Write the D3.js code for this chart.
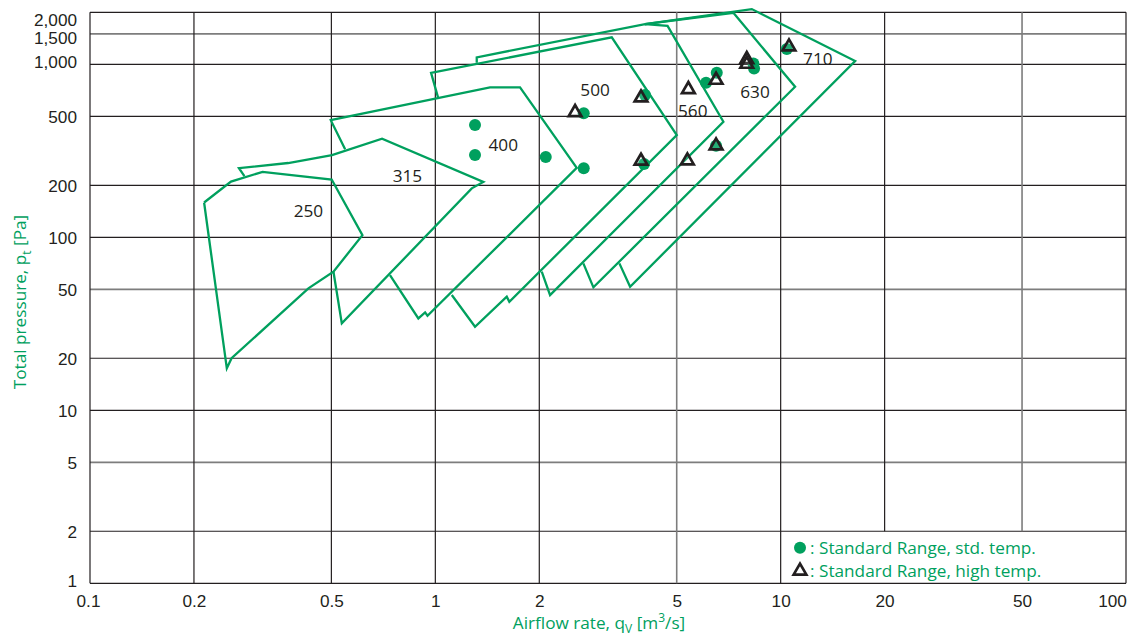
<!DOCTYPE html>
<html>
<head>
<meta charset="utf-8">
<script src="https://cdn.jsdelivr.net/npm/d3@7"></script>
<style>
  body { margin: 0; background: #fff; }
  svg { display: block; font-family: "Open Sans", sans-serif; }
</style>
</head>
<body>
<svg id="chart" width="1135" height="639"></svg>
<script>
"use strict"

// fan sizes and their operating range outlines, [airflow m3/s, pressure Pa]
const fanSizes = ["250", "315", "400", "500", "560", "630", "710"]
const curve250 = [[0.214, 159], [0.256, 210], [0.316, 239], [0.501, 216], [0.615, 103], [0.507, 63.3], [0.429, 50.7], [0.257, 20.0], [0.249, 17.5], [0.214, 159]]
const curve315 = [[0.280, 226], [0.270, 251], [0.375, 269], [0.502, 299], [0.701, 372], [1.377, 209], [1.275, 192], [0.536, 31.8], [0.507, 63.3]]
const curve400 = [[0.548, 323], [0.498, 476], [1.440, 736], [1.759, 736], [2.567, 252], [0.949, 35.2], [0.934, 36.8], [0.893, 34.0], [0.739, 60.5]]
const curve500 = [[1.020, 636], [0.972, 894], [3.243, 1432], [5.002, 390], [1.638, 42.4], [1.610, 45.4], [1.303, 30.4], [1.116, 46.4]]
const curve560 = [[1.318, 1021], [1.318, 1098], [4.048, 1710], [4.704, 1669], [6.826, 466], [2.149, 46.4], [2.033, 63.3]]
const curve630 = [[4.048, 1710], [7.295, 1988], [11.01, 742], [2.869, 51.4], [2.683, 70.7]]
const curve710 = [[4.048, 1710], [8.249, 2088], [16.43, 1045], [3.664, 51.8], [3.412, 70.7]]
const curves = [curve250, curve315, curve400, curve500, curve560, curve630, curve710]

// label anchor for each size
const labelX = [0.429, 0.830, 1.573, 2.901, 5.565, 8.43, 12.81]
const labelY = [141.9, 227, 344.8, 710, 537, 694, 1073]

// duty points
const stdTempX = [1.303, 1.303, 2.088, 2.690, 2.690, 4.048, 4.021, 6.081, 6.53, 6.50, 8.337, 8.375, 10.42]
const stdTempY = [445.9, 299.1, 291.2, 521.2, 250.6, 664.5, 265.3, 782.8, 894, 338.3, 1013, 948, 1226]
const highTempX = [2.539, 3.941, 3.941, 5.404, 5.368, 6.50, 6.50, 7.977, 7.977, 10.57]
const highTempY = [527.9, 641, 276.1, 717, 277.3, 811.5, 338.3, 1069, 1004, 1264]

const xTicks = [0.1, 0.2, 0.5, 1, 2, 5, 10, 20, 50, 100]
const yTicks = [1, 2, 5, 10, 20, 50, 100, 200, 500, 1000, 1500, 2000]
const legendLabels = [": Standard Range, std. temp.", ": Standard Range, high temp."]

const green = "#00a05e"
const dark = "#231f20"
const fontSize = "17.2px"
const subSize = "12px"

const margin = {left: 90, right: 9, top: 12.3, bottom: 55.7}
const width = 1135, height = 639

const svg = d3.select("#chart")

const x = d3.scaleLog().domain([0.1, 100]).range([margin.left, width - margin.right])
const y = d3.scaleLog().domain([1, 2000]).range([height - margin.bottom, margin.top])

// grid
const grid = svg.append("g").attr("class", "grid")
const lightLines = [1500, 5, 50]

grid.selectAll(".hline")
    .data(yTicks)
    .enter()
    .append("line")
    .attr("class", "hline")
    .attr("x1", x(0.1))
    .attr("x2", x(100))
    .attr("y1", d => y(d))
    .attr("y2", d => y(d))
    .style("stroke", d => lightLines.includes(d) ? "#7d7d7d" : dark)
    .style("stroke-width", d => lightLines.includes(d) ? 1.6 : 1.2)

// 20 and 50 stop above the legend cell
grid.selectAll(".vline")
    .data(xTicks)
    .enter()
    .append("line")
    .attr("class", "vline")
    .attr("x1", d => x(d))
    .attr("x2", d => x(d))
    .attr("y1", y(2000))
    .attr("y2", d => (d === 20 || d === 50) ? y(2) : y(1))
    .style("stroke", d => lightLines.includes(d) ? "#7d7d7d" : dark)
    .style("stroke-width", d => lightLines.includes(d) ? 1.6 : 1.2)

// axes
const fmt = d3.format(",")
const xAxis = d3.axisBottom(x).tickValues(xTicks).tickSize(0).tickPadding(11).tickFormat(d => String(d))
const yAxis = d3.axisLeft(y).tickValues(yTicks).tickSize(0).tickPadding(13).tickFormat(d => fmt(d))

const gx = svg.append("g")
    .attr("transform", "translate(0," + y(1) + ")")
    .call(xAxis)
gx.select(".domain").remove()
gx.selectAll("text")
    .style("font-size", fontSize)
    .style("fill", dark)
    .attr("dx", d => d === 100 ? -14 : (d === 0.1 ? -2 : 0))

const yShift = {2000: 7, 1500: 4, 1000: -2.5, 1: -3}
const gy = svg.append("g")
    .attr("transform", "translate(" + x(0.1) + ",0)")
    .call(yAxis)
gy.select(".domain").remove()
gy.selectAll("text")
    .style("font-size", fontSize)
    .style("fill", dark)
    .attr("dy", d => (yShift[d] || 0) + 6)

// axis titles
const xTitle = svg.append("text")
    .attr("x", 599)
    .attr("y", 629)
    .attr("text-anchor", "middle")
    .style("font-size", fontSize)
    .style("fill", green)
xTitle.append("tspan").text("Airflow rate, q")
xTitle.append("tspan").attr("dy", 4).style("font-size", subSize).text("V")
xTitle.append("tspan").attr("dy", -4).text(" [m")
xTitle.append("tspan").attr("dy", -7).style("font-size", subSize).text("3")
xTitle.append("tspan").attr("dy", 7).text("/s]")

const yTitle = svg.append("text")
    .attr("transform", "translate(26,302) rotate(-90)")
    .attr("text-anchor", "middle")
    .style("font-size", fontSize)
    .style("fill", green)
yTitle.append("tspan").text("Total pressure, p")
yTitle.append("tspan").attr("dy", 5).style("font-size", subSize).text("t")
yTitle.append("tspan").attr("dy", -5).text(" [Pa]")

// range outlines
const line = d3.line()
    .x(d => x(d[0]))
    .y(d => y(d[1]))

svg.selectAll(".range")
    .data(curves)
    .enter()
    .append("path")
    .attr("class", "range")
    .attr("d", d => line(d))
    .style("fill", "none")
    .style("stroke", green)
    .style("stroke-width", 2.3)
    .style("stroke-linejoin", "miter")

svg.selectAll(".size-label")
    .data(fanSizes)
    .enter()
    .append("text")
    .attr("class", "size-label")
    .attr("x", (d, i) => x(labelX[i]))
    .attr("y", (d, i) => y(labelY[i]))
    .attr("dy", "0.36em")
    .attr("text-anchor", "middle")
    .style("font-size", fontSize)
    .style("fill", dark)
    .text(d => d)

// duty points
const tri = d3.symbol().type(d3.symbolTriangle).size(70)

svg.selectAll(".std")
    .data(stdTempX)
    .enter()
    .append("circle")
    .attr("class", "std")
    .attr("cx", d => x(d))
    .attr("cy", (d, i) => y(stdTempY[i]))
    .attr("r", 6)
    .style("fill", green)

svg.selectAll(".high")
    .data(highTempX)
    .enter()
    .append("path")
    .attr("class", "high")
    .attr("d", tri)
    .attr("transform", (d, i) => "translate(" + x(d) + "," + y(highTempY[i]) + ")")
    .style("fill", "#fff")
    .style("fill-opacity", 0.15)
    .style("stroke", dark)
    .style("stroke-width", 2.7)

// legend
const legend = svg.append("g").attr("transform", "translate(800,0)")
legend.append("circle")
    .attr("cx", 0)
    .attr("cy", 547.7)
    .attr("r", 6)
    .style("fill", green)
legend.append("path")
    .attr("d", tri)
    .attr("transform", "translate(0,571)")
    .style("fill", "none")
    .style("stroke", dark)
    .style("stroke-width", 2.7)
legend.selectAll(".legend-text")
    .data(legendLabels)
    .enter()
    .append("text")
    .attr("class", "legend-text")
    .attr("x", 10)
    .attr("y", (d, i) => 547.7 + i * 23.3)
    .attr("dy", "0.36em")
    .style("font-size", fontSize)
    .style("fill", green)
    .text(d => d)
</script>
</body>
</html>
